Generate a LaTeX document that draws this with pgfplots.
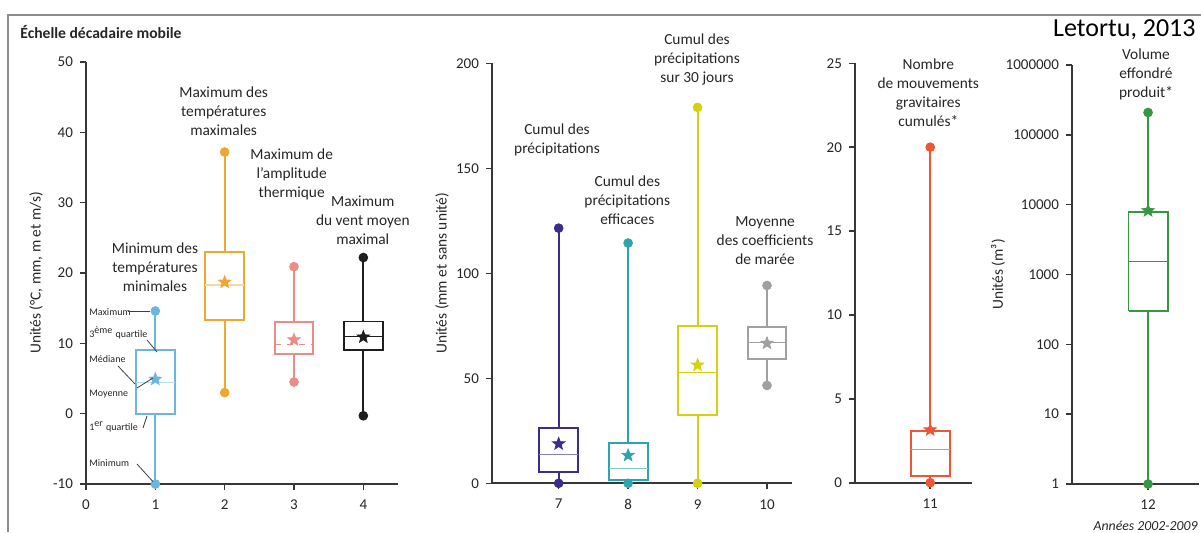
\documentclass[border=0pt]{standalone}
\usepackage{fontspec}
\setmainfont{Carlito}
\usepackage{pgfplots}
\pgfplotsset{compat=1.18}
\usepgfplotslibrary{statistics}

\definecolor{c1}{RGB}{105,182,222}
\definecolor{c2}{RGB}{238,168,48}
\definecolor{c3}{RGB}{236,140,135}
\definecolor{c4}{RGB}{30,30,30}
\definecolor{c7}{RGB}{58,45,140}
\definecolor{c8}{RGB}{45,165,172}
\definecolor{c9}{RGB}{212,208,18}
\definecolor{c10}{RGB}{160,160,160}
\definecolor{c11}{RGB}{238,85,55}
\definecolor{c12}{RGB}{55,150,65}
\definecolor{axgray}{RGB}{55,55,55}

\pgfdeclareplotmark{fstar}{%
  \pgfmathsetmacro\ro{\pgfplotmarksize}%
  \pgfmathsetmacro\ri{0.42*\pgfplotmarksize}%
  \pgfpathmoveto{\pgfpointpolar{90}{\ro pt}}%
  \pgfpathlineto{\pgfpointpolar{126}{\ri pt}}%
  \pgfpathlineto{\pgfpointpolar{162}{\ro pt}}%
  \pgfpathlineto{\pgfpointpolar{198}{\ri pt}}%
  \pgfpathlineto{\pgfpointpolar{234}{\ro pt}}%
  \pgfpathlineto{\pgfpointpolar{270}{\ri pt}}%
  \pgfpathlineto{\pgfpointpolar{306}{\ro pt}}%
  \pgfpathlineto{\pgfpointpolar{342}{\ri pt}}%
  \pgfpathlineto{\pgfpointpolar{18}{\ro pt}}%
  \pgfpathlineto{\pgfpointpolar{54}{\ri pt}}%
  \pgfpathclose
  \pgfusepathqfillstroke
}

\pgfplotsset{
  panel/.style={
    scale only axis, anchor=south west,
    axis lines=left, axis line style={-, axgray, line width=0.9pt},
    enlargelimits=false, clip=false,
    tick align=outside, major tick length=3pt,
    tick style={axgray, line width=0.8pt},
    minor tick style={draw=none},
    tick label style={font=\fontsize{7.5}{9}\selectfont, text=black!85},
    xticklabel style={yshift=-1.5pt},
    label style={font=\fontsize{7.7}{9}\selectfont, text=black!85},
    /pgf/number format/assume math mode=true,
    ylabel style={at={(axis description cs:0,0.5)}, anchor=center, yshift=25pt},
    boxplot/draw direction=y,
  },
  bx/.style={line width=0.95pt, solid},
  dots/.style={only marks, mark=*, mark size=2.2pt},
  stars/.style={only marks, mark=fstar, mark size=3.2pt},
}

\begin{document}
\begin{tikzpicture}
\useasboundingbox (0,0) rectangle (600.5pt,266pt);

% ---------- Panel 1 ----------
\begin{axis}[panel, at={(43pt,24pt)}, width=156pt, height=211pt,
  xmin=0, xmax=4.5, ymin=-10, ymax=50,
  xtick={0,1,2,3,4}, ytick={-10,0,10,20,30,40,50},
  ylabel={Unités (°C, mm, m et m/s)}]
\addplot[c1, bx, boxplot/every median/.style={c1!45, line width=0.6pt},
  boxplot prepared={lower whisker=-10, lower quartile=0, median=4.4, upper quartile=9, upper whisker=14.6, draw position=1, box extend=0.56, whisker extend=0}] coordinates {};
\addplot[c2, bx, boxplot/every median/.style={c2!45, line width=0.6pt},
  boxplot prepared={lower whisker=3.0, lower quartile=13.3, median=18.3, upper quartile=23.0, upper whisker=37.2, draw position=2, box extend=0.56, whisker extend=0}] coordinates {};
\addplot[c3, bx, boxplot/every median/.style={c3, dashed, line width=0.6pt},
  boxplot prepared={lower whisker=4.5, lower quartile=8.5, median=9.8, upper quartile=13.0, upper whisker=20.9, draw position=3, box extend=0.56, whisker extend=0}] coordinates {};
\addplot[c4, bx, boxplot/every median/.style={c4, line width=0.7pt},
  boxplot prepared={lower whisker=-0.3, lower quartile=9.0, median=11.0, upper quartile=13.1, upper whisker=22.2, draw position=4, box extend=0.56, whisker extend=0}] coordinates {};
\addplot[dots, c1] coordinates {(1,-10) (1,14.6)};
\addplot[dots, c2] coordinates {(2,3.0) (2,37.2)};
\addplot[dots, c3] coordinates {(3,4.5) (3,20.9)};
\addplot[dots, c4] coordinates {(4,-0.3) (4,22.2)};
\addplot[stars, c1] coordinates {(1,4.9)};
\addplot[stars, c2] coordinates {(2,18.7)};
\addplot[stars, c3] coordinates {(3,10.5)};
\addplot[stars, c4] coordinates {(4,10.9)};
\end{axis}

% ---------- Panel 2 ----------
\begin{axis}[panel, at={(246pt,24.35pt)}, width=150pt, height=210pt,
  xmin=6.04, xmax=10.36, ymin=0, ymax=200,
  xtick={7,8,9,10}, ytick={0,50,100,150,200},
  ylabel={Unités (mm et sans unité)}]
\addplot[c7, bx, boxplot/every median/.style={c7!60, line width=0.6pt},
  boxplot prepared={lower whisker=0, lower quartile=5.2, median=13.6, upper quartile=26.3, upper whisker=121.5, draw position=7, box extend=0.56, whisker extend=0}] coordinates {};
\addplot[c8, bx, boxplot/every median/.style={c8!60, line width=0.6pt},
  boxplot prepared={lower whisker=0, lower quartile=1.5, median=7.0, upper quartile=19.2, upper whisker=114.4, draw position=8, box extend=0.56, whisker extend=0}] coordinates {};
\addplot[c9, bx, boxplot/every median/.style={c9, line width=0.6pt},
  boxplot prepared={lower whisker=0, lower quartile=32.5, median=52.6, upper quartile=75, upper whisker=179, draw position=9, box extend=0.56, whisker extend=0}] coordinates {};
\addplot[c10, bx, boxplot/every median/.style={c10, line width=0.6pt},
  boxplot prepared={lower whisker=46.6, lower quartile=59.4, median=67.2, upper quartile=74.5, upper whisker=94.2, draw position=10, box extend=0.56, whisker extend=0}] coordinates {};
\addplot[dots, c7] coordinates {(7,0) (7,121.5)};
\addplot[dots, c8] coordinates {(8,0) (8,114.4)};
\addplot[dots, c9] coordinates {(9,0) (9,179)};
\addplot[dots, c10] coordinates {(10,46.6) (10,94.2)};
\addplot[stars, c7] coordinates {(7,18.8)};
\addplot[stars, c8] coordinates {(8,13.3)};
\addplot[stars, c9] coordinates {(9,56.3)};
\addplot[stars, c10] coordinates {(10,66.7)};
\end{axis}

% ---------- Panel 3 ----------
\begin{axis}[panel, at={(427.5pt,24.65pt)}, width=58.5pt, height=209.7pt,
  xmin=9.92, xmax=11.6, ymin=0, ymax=25,
  xtick={11}, ytick={0,5,10,15,20,25}]
\addplot[c11, bx, boxplot/every median/.style={c11!70, line width=0.6pt},
  boxplot prepared={lower whisker=0, lower quartile=0.4, median=2.0, upper quartile=3.1, upper whisker=20, draw position=11, box extend=0.56, whisker extend=0}] coordinates {};
\addplot[dots, c11] coordinates {(11,0) (11,20)};
\addplot[stars, c11] coordinates {(11,3.15)};
\end{axis}

% ---------- Panel 4 ----------
\begin{axis}[panel, at={(536pt,24pt)}, width=63.5pt, height=209.5pt,
  ymode=log, log basis y=10,
  xmin=10.91, xmax=12.73, ymin=1, ymax=1000000,
  xtick={12}, ytick={1,10,100,1000,10000,100000,1000000},
  yticklabels={1,10,100,1000,10000,100000,1000000},
  ylabel={Unités (m³)}, ylabel style={yshift=12pt}]
\addplot[c12, bx] coordinates {(11.72,300) (12.28,300) (12.28,7950) (11.72,7950) (11.72,300)};
\addplot[c12, bx] coordinates {(12,1) (12,300)};
\addplot[c12, bx] coordinates {(12,7950) (12,209000)};
\addplot[c12, line width=0.7pt] coordinates {(11.72,1530) (12.28,1530)};
\addplot[dots, c12] coordinates {(12,1) (12,209000)};
\addplot[stars, c12] coordinates {(12,8200)};
\end{axis}

% ---------- Frame and texts (pixel coordinates) ----------
\begin{scope}[x=0.5pt, y=-0.5pt, yshift=266pt]
  \draw[gray!90, line width=0.6pt] (8,532) -- (8,15) -- (1201,15);
  \node[anchor=west, inner sep=0pt, font=\bfseries\fontsize{7.8}{9}\selectfont, text=black!85] at (20,32) {Échelle décadaire mobile};
  \node[anchor=east, inner sep=0pt, font=\fontsize{13}{15}\selectfont] at (1196,30) {Letortu, 2013};
  \node[anchor=east, inner sep=0pt, font=\itshape\fontsize{6.9}{8}\selectfont, text=black!85] at (1198,526) {Années 2002-2009};

  \tikzset{ann/.style={align=center, inner sep=0pt, font=\fontsize{7.7}{9.5}\selectfont, text=black!85}}
  \node[ann] at (155,267.6) {Minimum des\\températures\\minimales};
  \node[ann] at (223.7,111.5) {Maximum des\\températures\\maximales};
  \node[ann] at (291.7,174.7) {Maximum de\\l'amplitude\\thermique};
  \node[ann] at (362.8,219.8) {Maximum\\du vent moyen\\maximal};
  \node[ann] at (557,139.5) {Cumul des\\précipitations};
  \node[ann] at (627.3,200.2) {Cumul des\\précipitations\\efficaces};
  \node[ann] at (697,59.4) {Cumul des\\précipitations\\sur 30 jours};
  \node[ann] at (765,241) {Moyenne\\des coefficients\\de marée};
  \node[ann] at (928.3,93) {Nombre\\de mouvements\\gravitaires\\cumulés*};
  \node[ann] at (1146,74.1) {Volume\\effondré\\produit*};

  \tikzset{leg/.style={anchor=west, inner sep=0pt, font=\fontsize{5}{6}\selectfont, text=black!85}}
  \node[leg] at (89,311.7) {Maximum};
  \node[leg] at (89,332.7) {3\textsuperscript{ème} quartile};
  \node[leg] at (89,359.3) {Médiane};
  \node[leg] at (89,394) {Moyenne};
  \node[leg] at (89,426.7) {1\textsuperscript{er} quartile};
  \node[leg] at (89,462.7) {Minimum};
  \draw[black!75, line width=0.4pt] (128,311) -- (150,311);
  \draw[black!75, line width=0.4pt] (147,340) -- (157,352);
  \draw[black!75, line width=0.4pt] (118,366) -- (135,384);
  \draw[black!75, line width=0.4pt] (137,388) -- (153,378);
  \draw[black!75, line width=0.4pt] (143,428) -- (147,416);
  \draw[black!75, line width=0.4pt] (137,464) -- (153,481.7);
\end{scope}
\end{tikzpicture}
\end{document}
